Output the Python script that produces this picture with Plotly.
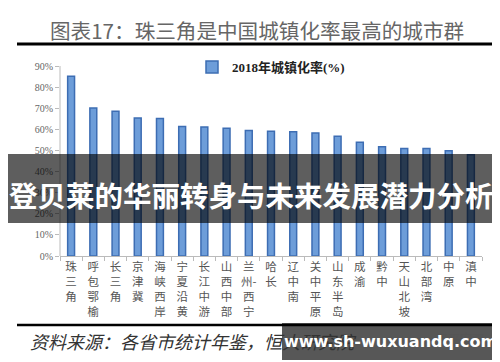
import plotly.graph_objects as go

categories = ["珠三角", "呼包鄂榆", "长三角", "京津冀", "海峡西岸", "宁夏沿黄", "长江中游",
              "山西中部", "兰州-西宁", "哈长", "辽中南", "关中平原", "山东半岛", "成渝",
              "黔中", "天山北坡", "北部湾", "中原", "滇中"]
tick_labels = ["珠<br>三<br>角", "呼<br>包<br>鄂<br>榆", "长<br>三<br>角", "京<br>津<br>冀",
               "海<br>峡<br>西<br>岸", "宁<br>夏<br>沿<br>黄", "长<br>江<br>中<br>游",
               "山<br>西<br>中<br>部", "兰<br>州-<br>西<br>宁", "哈<br>长", "辽<br>中<br>南",
               "关<br>中<br>平<br>原", "山<br>东<br>半<br>岛", "成<br>渝", "黔<br>中",
               "天<br>山<br>北<br>坡", "北<br>部<br>湾", "中<br>原", "滇<br>中"]
urban_rate_2018 = [85.2, 70.1, 68.6, 65.4, 65.1, 61.3, 61.1, 60.5, 59.4, 59.1, 58.8,
                   58.3, 56.7, 53.9, 51.8, 50.9, 50.9, 49.9, 48.0]
y_ticks = [0, 10, 20, 30, 40, 50, 60, 70, 80, 90]
y_tick_labels = ["0%", "10%", "20%", "30%", "40%", "50%", "60%", "70%", "80%", "90%"]

W, H = 500, 362
L, R, T, B = 52, 474, 44, 248          # plot area in pixels
PW, PH = R - L, B - T
y_top = 90 * PH / (B - 58)              # 90% sits at pixel y=58

def px_x(x):
    return (x - L) / PW

def px_y(y):
    return (B - y) / PH

fig = go.Figure()
fig.add_trace(go.Bar(
    x=categories, y=urban_rate_2018, name="<b>2018年城镇化率(%)</b>",
    marker=dict(color="#6d9dd9", line=dict(color="#3d6db3", width=1.5)),
))

fig.update_layout(
    width=W, height=H,
    margin=dict(l=L, r=W - R, t=T, b=H - B, autoexpand=False),
    paper_bgcolor="white", plot_bgcolor="white",
    bargap=0.69,
    showlegend=True,
    legend=dict(orientation="h", x=0.5, xanchor="center",
                y=1.0, yanchor="top",
                font=dict(family="Liberation Serif, Noto Sans CJK SC", size=13, color="#222"),
                bgcolor="rgba(0,0,0,0)"),
    xaxis=dict(tickmode="array", tickvals=categories, ticktext=tick_labels,
               showline=True, linecolor="#bbbbbb", linewidth=1,
               ticks="outside", tickson="boundaries", ticklen=4, tickcolor="#bbbbbb",
               tickfont=dict(family="Noto Sans CJK SC", size=11.5, color="#555"),
               tickangle=0, showgrid=False),
    yaxis=dict(range=[0, y_top], tickmode="array", tickvals=y_ticks, ticktext=y_tick_labels,
               showline=False,
               ticks="outside", ticklen=4, tickcolor="#bbbbbb",
               tickfont=dict(family="Liberation Serif", size=10, color="#666"),
               showgrid=False, zeroline=False),
)

shapes = [
    # y axis line from 0 to 90
    dict(type="line", xref="paper", yref="y", x0=0, x1=0, y0=0, y1=90,
         line=dict(color="#bbbbbb", width=1)),
    # rule under title
    dict(type="line", xref="paper", yref="paper", x0=px_x(9), x1=px_x(489),
         y0=px_y(36), y1=px_y(36), line=dict(color="black", width=3)),
    # bottom rule
    dict(type="line", xref="paper", yref="paper", x0=px_x(9), x1=px_x(490),
         y0=px_y(317), y1=px_y(317), line=dict(color="black", width=2.5)),
    # overlay banner
    dict(type="rect", xref="paper", yref="paper", x0=px_x(0), x1=px_x(500),
         y0=px_y(215), y1=px_y(146), fillcolor="rgba(0,0,0,0.63)", line=dict(width=0),
         layer="above"),
    # watermark box
    dict(type="rect", xref="paper", yref="paper", x0=px_x(274), x1=px_x(490),
         y0=px_y(352), y1=px_y(315), fillcolor="rgba(0,0,0,0.66)", line=dict(width=0),
         layer="above"),
]
fig.update_layout(shapes=shapes)

annotations = [
    dict(text="图表17：珠三角是中国城镇化率最高的城市群", x=px_x(249), y=px_y(22),
         font=dict(family="Noto Sans CJK SC", size=20.6, color="#666")),
    dict(text="<i>资料来源：各省市统计年鉴，恒大研究院</i>", x=px_x(20), y=px_y(333),
         xanchor="left", font=dict(family="Noto Sans CJK SC", size=18, color="#333")),
    dict(text="泽平宏观", x=px_x(478), y=px_y(330), xanchor="right",
         font=dict(family="Noto Sans CJK SC", size=12, color="#555")),
    dict(text="<b>登贝莱的华丽转身与未来发展潜力分析</b>", x=px_x(243), y=px_y(186),
         font=dict(family="Noto Sans CJK SC", size=28.5, color="white")),
    dict(text="<b>www.sh-wuxuandq.com</b>", x=px_x(382), y=px_y(333),
         font=dict(family="DejaVu Sans", size=16, color="white")),
]
for a in annotations:
    a.setdefault("xanchor", "center")
    a.update(xref="paper", yref="paper", showarrow=False, yanchor="middle")
fig.update_layout(annotations=annotations)

fig.write_html("out.html")
